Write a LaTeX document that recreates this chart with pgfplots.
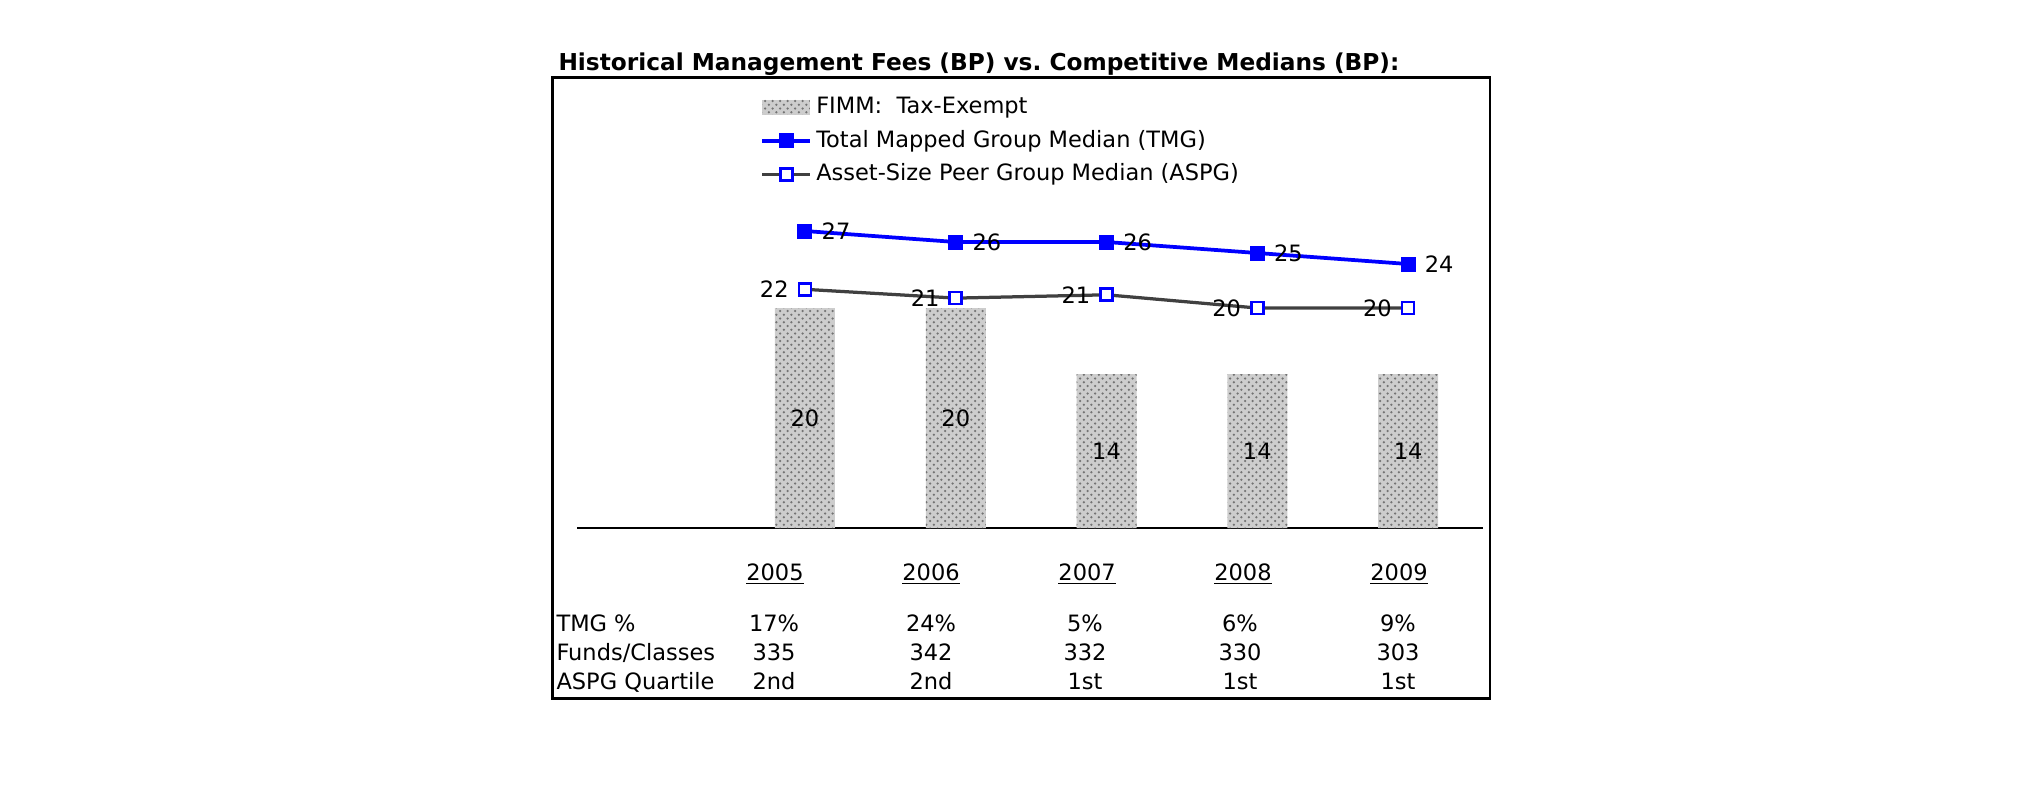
\documentclass[border=0pt]{standalone}
\usepackage{pgfplots}
\pgfplotsset{compat=1.18}
\usepackage{fontspec}
\setmainfont{DejaVu Sans}
\usetikzlibrary{patterns}
\definecolor{tmgblue}{RGB}{0,0,255}
\definecolor{aspggray}{RGB}{64,64,64}
\definecolor{barfill}{RGB}{205,205,205}
\newcommand{\uline}[1]{\underline{#1}}
\pgfplotsset{
  patchlegend/.style={legend image code/.code={\path[##1] (0pt,-3pt) rectangle (19pt,3pt);}},
  linelegend/.style={legend image code/.code={\draw[mark repeat=2,mark phase=2,##1] plot coordinates {(0pt,0pt) (9.5pt,0pt) (19pt,0pt)};}},
}
\begin{document}
\begin{tikzpicture}[font=\fontsize{9pt}{11pt}\selectfont]
\path[use as bounding box] (0,0) rectangle (810pt,322.4pt);
\draw[line width=1.1pt] (221.1pt,291.4pt) rectangle (596pt,42.9pt);
\node[anchor=base west, inner sep=0pt, font=\fontsize{9.3pt}{11pt}\selectfont\bfseries] at (223.2pt,294.4pt) {Historical Management Fees (BP) vs.\ Competitive Medians (BP):};
\begin{axis}[
  at={(230.8pt,111.2pt)}, anchor=south west,
  scale only axis,
  width=362.4pt, height=132pt,
  xmin=-1.512, xmax=4.497, ymin=0, ymax=30,
  axis x line*=bottom, axis y line=none,
  axis line style={-, line width=0.6pt, black},
  ytick=\empty,
  xtick={-0.199,0.836,1.871,2.905,3.940},
  xticklabels={\uline{2005},\uline{2006},\uline{2007},\uline{2008},\uline{2009}},
  major tick length=0pt,
  xticklabel shift=0pt,
  xticklabel style={anchor=base, yshift=-20.8pt, inner sep=0pt, font=\fontsize{9pt}{11pt}\selectfont},
  clip=false,
  linelegend,
  legend style={at={(0.202,1.309)}, anchor=north west, draw=none, fill=none, inner sep=0pt,
    font=\fontsize{9pt}{11pt}\selectfont,
    nodes={inner sep=0pt, text height=6.8pt, text depth=1.9pt},
    row sep=4.7pt, legend cell align=left,
    /tikz/every odd column/.append style={column sep=1.8pt}},
]
\addplot[ybar, bar width=24pt, fill=barfill, draw=none,
  postaction={pattern=crosshatch dots, pattern color=black!55},
  patchlegend]
  coordinates {(0,20) (1,20) (2,14) (3,14) (4,14)};
\addlegendentry{FIMM:\ \ Tax-Exempt}
\addplot[forget plot, draw=none, mark=none, nodes near coords, point meta=explicit symbolic,
  every node near coord/.append style={anchor=center, inner sep=0pt, text=black}]
  coordinates {(0,10)[20] (1,10)[20] (2,7)[14] (3,7)[14] (4,7)[14]};
\addplot[color=tmgblue, line width=1.5pt, mark=square*, mark size=2.8pt,
  mark options={fill=tmgblue, draw=tmgblue, line width=0.4pt},
  nodes near coords, point meta=explicit symbolic,
  every node near coord/.append style={anchor=west, xshift=6.5pt, inner sep=0pt, text=black}]
  coordinates {(0,27)[27] (1,26)[26] (2,26)[26] (3,25)[25] (4,24)[24]};
\addlegendentry{Total Mapped Group Median (TMG)}
\addplot[color=aspggray, line width=1.3pt, mark=square*, mark size=2.4pt,
  mark options={fill=white, draw=tmgblue, line width=1.1pt},
  nodes near coords, point meta=explicit symbolic,
  every node near coord/.append style={anchor=east, xshift=-6pt, inner sep=0pt, text=black}]
  coordinates {(0,21.7)[22] (1,20.9)[21] (2,21.2)[21] (3,20.0)[20] (4,20.0)[20]};
\addlegendentry{Asset-Size Peer Group Median (ASPG)}
\end{axis}
% table rows
\node[anchor=base west, inner sep=0pt] at (222.4pt,70pt) {TMG \%};
\node[anchor=base west, inner sep=0pt] at (222.4pt,58.4pt) {Funds/Classes};
\node[anchor=base west, inner sep=0pt] at (222.4pt,46.8pt) {ASPG Quartile};
\node[anchor=base, inner sep=0pt] at (309.6pt,70pt) {17\%};
\node[anchor=base, inner sep=0pt] at (372.4pt,70pt) {24\%};
\node[anchor=base, inner sep=0pt] at (434pt,70pt) {5\%};
\node[anchor=base, inner sep=0pt] at (496pt,70pt) {6\%};
\node[anchor=base, inner sep=0pt] at (559.2pt,70pt) {9\%};
\node[anchor=base, inner sep=0pt] at (309.6pt,58.4pt) {335};
\node[anchor=base, inner sep=0pt] at (372.4pt,58.4pt) {342};
\node[anchor=base, inner sep=0pt] at (434pt,58.4pt) {332};
\node[anchor=base, inner sep=0pt] at (496pt,58.4pt) {330};
\node[anchor=base, inner sep=0pt] at (559.2pt,58.4pt) {303};
\node[anchor=base, inner sep=0pt] at (309.6pt,46.8pt) {2nd};
\node[anchor=base, inner sep=0pt] at (372.4pt,46.8pt) {2nd};
\node[anchor=base, inner sep=0pt] at (434pt,46.8pt) {1st};
\node[anchor=base, inner sep=0pt] at (496pt,46.8pt) {1st};
\node[anchor=base, inner sep=0pt] at (559.2pt,46.8pt) {1st};
\end{tikzpicture}
\end{document}
